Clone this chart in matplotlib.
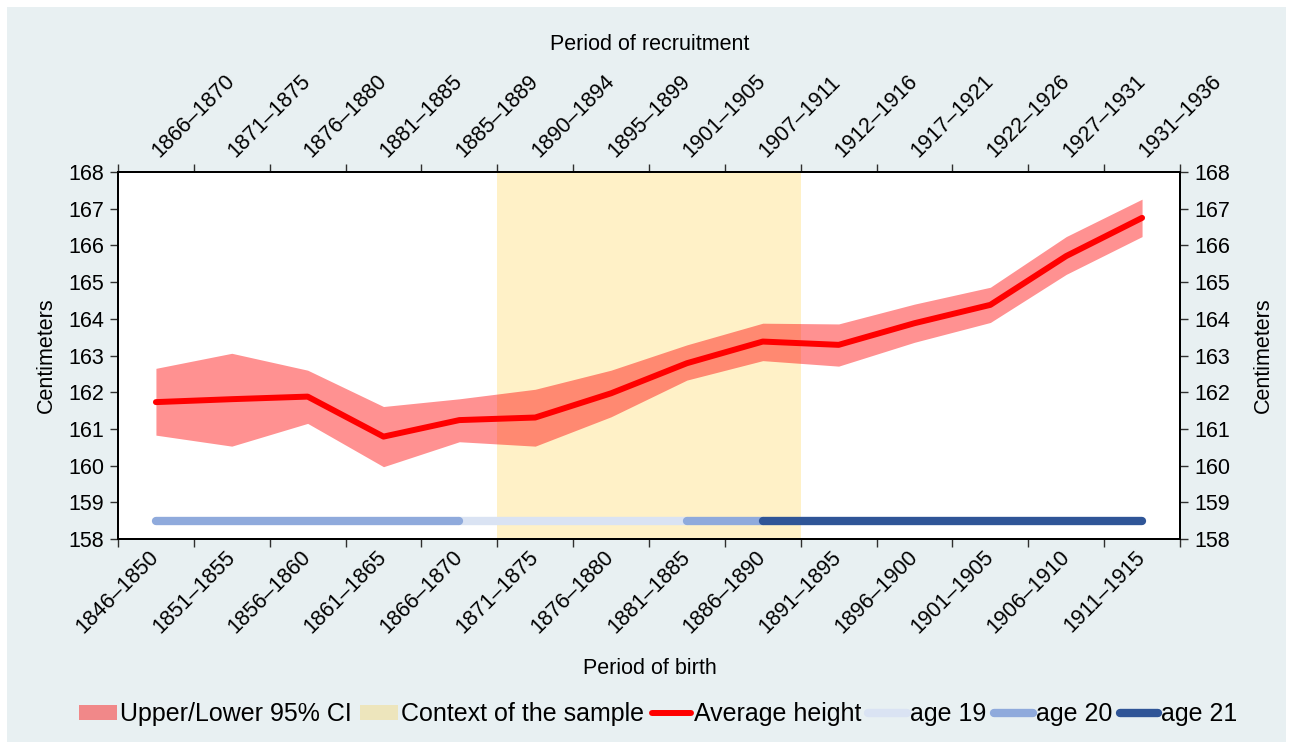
import numpy as np
import matplotlib
matplotlib.use('Agg')
import matplotlib.pyplot as plt
from matplotlib.patches import Patch, Rectangle
from matplotlib.lines import Line2D

plt.rcParams['font.family'] = ['Liberation Sans', 'DejaVu Sans']

# Period of birth (bottom axis) and matching period of recruitment (top axis)
birth = ['1846–1850', '1851–1855', '1856–1860', '1861–1865', '1866–1870',
         '1871–1875', '1876–1880', '1881–1885', '1886–1890', '1891–1895',
         '1896–1900', '1901–1905', '1906–1910', '1911–1915']
recruit = ['1866–1870', '1871–1875', '1876–1880', '1881–1885', '1885–1889',
           '1890–1894', '1895–1899', '1901–1905', '1907–1911', '1912–1916',
           '1917–1921', '1922–1926', '1927–1931', '1931–1936']

avg_height = [161.73, 161.81, 161.88, 160.79, 161.24, 161.31, 161.97,
              162.79, 163.38, 163.29, 163.88, 164.38, 165.71, 166.75]
ci_upper = [162.65, 163.06, 162.60, 161.61, 161.82, 162.08, 162.60,
            163.29, 163.88, 163.86, 164.40, 164.86, 166.24, 167.26]
ci_lower = [160.83, 160.53, 161.15, 159.97, 160.65, 160.53, 161.33,
            162.33, 162.86, 162.71, 163.36, 163.90, 165.21, 166.24]

# context of the sample: birth cohorts 1871-1875 .. 1886-1890
context_first, context_last = 5, 8

# age at recruitment bars (drawn at 158.5 cm)
nan = np.nan
age19 = [nan, nan, nan, nan, 158.5, 158.5, 158.5, 158.5, nan, nan, nan, nan, nan, nan]
age20 = [158.5, 158.5, 158.5, 158.5, 158.5, nan, nan, 158.5, 158.5, nan, nan, nan, nan, nan]
age21 = [nan, nan, nan, nan, nan, nan, nan, nan, 158.5, 158.5, 158.5, 158.5, 158.5, 158.5]

c_ci = '#ff0000'
c_ctx = '#ffc000'
c_19 = '#dae3f3'
c_20 = '#8faadc'
c_21 = '#2f5597'

W, H = 1294, 749
fig = plt.figure(figsize=(W/100, H/100), dpi=100)
fig.patch.set_facecolor('white')
fig.patches.append(Rectangle((7/W, 7/H), 1279/W, 735/H, transform=fig.transFigure,
                             facecolor='#e8f0f2', edgecolor='none', zorder=-10))

ax = fig.add_axes([118/W, 1-539/H, (1180-118)/W, (539-172)/H])
x = np.arange(len(birth))

ax.axvspan(context_first-0.5, context_last+0.5, color=c_ctx, alpha=0.22, lw=0, zorder=1)
ax.fill_between(x, ci_lower, ci_upper, color=c_ci, alpha=0.43, lw=0, zorder=2)
ax.plot(x, avg_height, color='#ff0000', lw=4.3, solid_capstyle='round',
        solid_joinstyle='round', zorder=4)
for vals, c in [(age19, c_19), (age20, c_20), (age21, c_21)]:
    ax.plot(x, vals, color=c, lw=6, solid_capstyle='round', zorder=3)

ax.set_xlim(-0.5, len(birth)-0.5)
ax.set_ylim(158, 168)
ax.set_yticks(np.arange(158, 169, 1))
ax.set_xticks(np.arange(-0.5, len(birth), 1))
ax.set_xticklabels([])
ax.set_xticks(x, minor=True)
ax.set_xticklabels(birth, minor=True, rotation=45, ha='right', va='center',
                   rotation_mode='anchor', fontsize=15.5)
ax.tick_params(axis='x', which='minor', length=0, pad=11)
ax.tick_params(axis='x', which='major', length=6, width=1, color='#303030', direction='out')
ax.tick_params(axis='y', length=6, width=1, color='#303030', labelsize=15.5, pad=4)

for s in ax.spines.values():
    s.set_color('black')
    s.set_linewidth(1.3)

# top axis with recruitment periods
axt = ax.twiny()
axt.set_xlim(ax.get_xlim())
axt.set_xticks(np.arange(-0.5, len(birth), 1))
axt.set_xticklabels([])
axt.set_xticks(x, minor=True)
axt.set_xticklabels(recruit, minor=True, rotation=45, ha='left', va='center',
                    rotation_mode='anchor', fontsize=15.5)
axt.tick_params(axis='x', which='minor', length=0, pad=13)
axt.tick_params(axis='x', which='major', length=6, width=1, color='#303030', direction='out')

# right axis
axr = ax.twinx()
axr.set_ylim(ax.get_ylim())
axr.set_yticks(np.arange(158, 169, 1))
axr.tick_params(axis='y', length=6, width=1, color='#303030', labelsize=15.5, pad=4)
for a in (axt, axr):
    for s in a.spines.values():
        s.set_color('black')
        s.set_linewidth(1.3)

fig.text(650/W, 1-668/H, 'Period of birth', ha='center', va='center', fontsize=15.5)
fig.text(650/W, 1-45/H, 'Period of recruitment', ha='center', va='center', fontsize=15.5)
fig.text(46/W, 1-355/H, 'Centimeters', rotation=90, ha='center', va='center', fontsize=15.5)
fig.text(1263/W, 1-355/H, 'Centimeters', rotation=90, ha='center', va='center', fontsize=15.5)

handles = [Patch(facecolor=c_ci, alpha=0.43, lw=0),
           Patch(facecolor=c_ctx, alpha=0.22, lw=0),
           Line2D([], [], color='#ff0000', lw=4.3, solid_capstyle='round'),
           Line2D([], [], color=c_19, lw=6, solid_capstyle='round'),
           Line2D([], [], color=c_20, lw=6, solid_capstyle='round'),
           Line2D([], [], color=c_21, lw=6, solid_capstyle='round')]
labels = ['Upper/Lower 95% CI', 'Context of the sample', 'Average height',
          'age 19', 'age 20', 'age 21']
fig.legend(handles, labels, loc='center', bbox_to_anchor=(658/W, 1-714/H), ncol=6,
           frameon=False, fontsize=18, handlelength=1.55, handleheight=0.55,
           handletextpad=0.12, columnspacing=0.3, borderpad=0)

fig.savefig('out.png', dpi=100, facecolor=fig.get_facecolor())
